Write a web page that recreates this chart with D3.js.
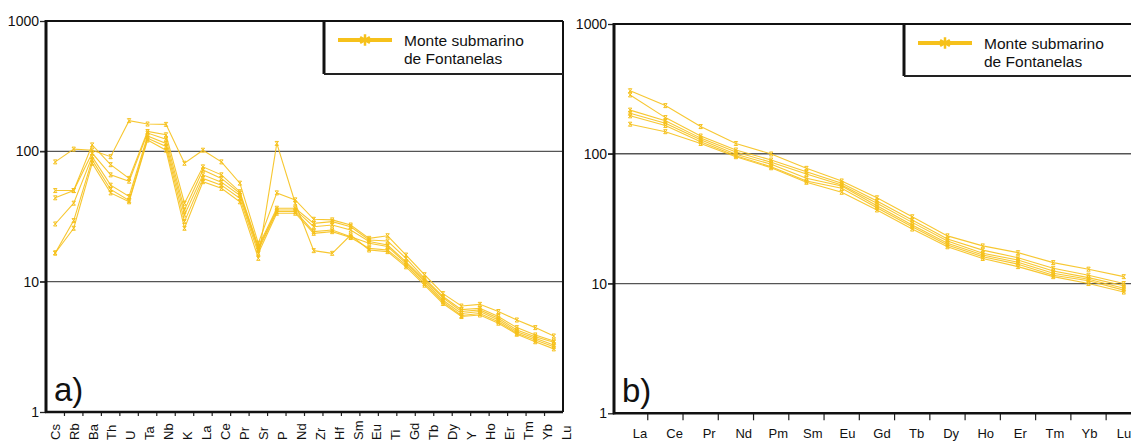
<!DOCTYPE html>
<html>
<head>
<meta charset="utf-8">
<script src="https://cdn.jsdelivr.net/npm/d3@7"></script>
<style>
  body { margin: 0; background: #fff; }
  svg { display: block; font-family: "Liberation Sans", Arial, sans-serif; }
</style>
</head>
<body>
<div id="chart"></div>
<script>
// spider diagram (a) elements and samples
var elemA = ["Cs","Rb","Ba","Th","U","Ta","Nb","K","La","Ce","Pr","Sr","P","Nd","Zr","Hf","Sm","Eu","Ti","Gd","Tb","Dy","Y","Ho","Er","Tm","Yb","Lu"];
var a1 = [83,104,102,91,172,162,161,81,102,83,57,19.7,48,42.4,30.1,29.8,27.2,21.5,22.5,16,11.3,8.1,6.5,6.7,5.9,5.08,4.44,3.83];
var a2 = [50,50,112,79,62,142,134,40,76,66,49,18.6,36.6,36.6,28,28.9,26.4,20.9,20.5,15.1,10.6,7.7,6.1,6.25,5.4,4.44,3.9,3.51];
var a3 = [44,50,97,66,59,138,124,35.5,72,62,47.7,18,35.5,35.5,26.4,27.2,24.9,20.3,19.1,14.2,10.3,7.5,5.9,6.07,5.24,4.26,3.78,3.43];
var a4 = [27.7,40,91,55,45,131,115,32.5,66,58,46,17.5,34.5,34.5,24.2,24.9,22.1,19.7,18.6,13.8,10,7.2,5.7,5.9,5.08,4.13,3.68,3.27];
var a5 = [16.6,29.4,86,51,42,126,109,28.9,62,55,43.6,16.5,33.5,33.5,23.5,24.2,21.8,18,17.5,13.4,9.7,7.0,5.5,5.7,4.93,4.02,3.57,3.17];
var a6 = [16.6,25.7,81,48,41,122,102,25.7,58.5,52,41,15.1,115,40,17.3,16.5,22.8,17.5,17,13,9.4,6.8,5.4,5.55,4.8,3.95,3.46,3.05];

// REE diagram (b)
var elemB = ["La","Ce","Pr","Nd","Pm","Sm","Eu","Gd","Tb","Dy","Ho","Er","Tm","Yb","Lu"];
var b1 = [306,235,162,120,99.6,77.2,61.7,45.8,32.7,23.3,19.5,17.3,14.5,12.9,11.3];
var b2 = [284,190,137,107,89.5,72.7,59.2,43.2,30.9,22.0,18.1,15.8,13.1,11.6,10.0];
var b3 = [217,180,132,103,86,69.8,57.4,41.5,29.6,21.3,17.1,15.2,12.5,11.1,9.6];
var b4 = [205,172,128,99,83,64.7,56.4,39.8,28.3,20.4,16.6,14.6,12.0,10.8,9.2];
var b5 = [196,165,124,96.6,79.5,61.7,54.2,38.4,27.4,19.8,16.1,14.1,11.6,10.5,8.9];
var b6 = [169,148,120,94.9,78,60.3,50.5,36.9,26.3,19.2,15.6,13.5,11.3,10.0,8.6];

var yTicks = [1, 10, 100, 1000];
var gridVals = [10, 100];
var legendText = ["Monte submarino", "de Fontanelas"];
var gold = "#f6c11b";

var svg = d3.select("#chart").append("svg")
    .attr("width", 1131)
    .attr("height", 441);

function drawPanel(p) {
    var g = svg.append("g");

    var x = d3.scaleBand().domain(p.elems).range(p.xRange);
    var xl = d3.scalePoint().domain(p.elems).range(p.labelRange);
    var y = d3.scaleLog().domain([1, 1000]).range([p.bottom, p.top]);

    // grid
    g.selectAll(".grid")
        .data(gridVals)
        .enter()
        .append("line")
        .attr("x1", p.left - 6)
        .attr("x2", p.right)
        .attr("y1", function (d) { return y(d) })
        .attr("y2", function (d) { return y(d) })
        .attr("stroke", "#555")
        .attr("stroke-width", 1.3);

    // y axis
    var ax = g.append("g")
        .attr("transform", "translate(" + p.left + ",0)")
        .call(d3.axisLeft(y).tickValues(yTicks).tickFormat(d3.format("d")).tickSize(6).tickSizeOuter(0));
    ax.select(".domain").remove();
    ax.selectAll("line").attr("stroke", "#222").attr("stroke-width", 1.3);
    ax.selectAll("text").attr("font-size", 14).attr("fill", "#111").attr("x", -7)
        .attr("font-family", "Liberation Sans, Arial, sans-serif");

    // x ticks at band edges
    g.selectAll(".xt")
        .data(p.elems.slice(1))
        .enter()
        .append("line")
        .attr("x1", function (d) { return x(d) })
        .attr("x2", function (d) { return x(d) })
        .attr("y1", p.bottom)
        .attr("y2", p.bottom + p.tickLen)
        .attr("stroke", "#222")
        .attr("stroke-width", 1.2);

    // x labels
    if (p.rotate) {
        g.selectAll(".xl")
            .data(p.elems)
            .enter()
            .append("text")
            .attr("transform", function (d) { return "translate(" + xl(d) + ",440) rotate(-90)" })
            .attr("dy", "0.36em")
            .attr("font-size", 13)
            .attr("fill", "#111")
            .text(function (d) { return d });
    } else {
        g.selectAll(".xl")
            .data(p.elems)
            .enter()
            .append("text")
            .attr("x", function (d) { return xl(d) })
            .attr("y", 437.5)
            .attr("text-anchor", "middle")
            .attr("font-size", 13)
            .attr("fill", "#111")
            .text(function (d) { return d });
    }

    // frame
    g.append("line").attr("x1", p.left).attr("x2", p.right).attr("y1", p.top).attr("y2", p.top)
        .attr("stroke", "#111").attr("stroke-width", 2.2);
    g.append("line").attr("x1", p.right).attr("x2", p.right).attr("y1", p.top).attr("y2", p.bottom)
        .attr("stroke", "#111").attr("stroke-width", 2);
    g.append("line").attr("x1", p.left - 1).attr("x2", p.right).attr("y1", p.bottom).attr("y2", p.bottom)
        .attr("stroke", "#111").attr("stroke-width", 2.5);
    g.append("line").attr("x1", p.left).attr("x2", p.left).attr("y1", p.top - 1).attr("y2", p.bottom + 1)
        .attr("stroke", "#111").attr("stroke-width", 3);

    // data
    var line = d3.line()
        .x(function (d, i) { return x(p.elems[i]) + x.bandwidth() / 2 })
        .y(function (d) { return y(d) });

    var marker = "M-1.7,-2L1.7,-2L-1.7,2L1.7,2Z";

    p.series.forEach(function (s) {
        g.append("path")
            .attr("d", line(s))
            .attr("fill", "none")
            .attr("stroke", gold)
            .attr("stroke-width", 1.1)
            .attr("opacity", 0.9);
        g.selectAll(null)
            .data(s)
            .enter()
            .append("path")
            .attr("d", marker)
            .attr("transform", function (d, i) { return "translate(" + (x(p.elems[i]) + x.bandwidth() / 2) + "," + y(d) + ")" })
            .attr("fill", "none")
            .attr("stroke", gold)
            .attr("stroke-width", 1);
    });

    // legend
    var lg = g.append("g");
    lg.append("line").attr("x1", p.legX).attr("x2", p.legX).attr("y1", p.top).attr("y2", p.legBottom)
        .attr("stroke", "#111").attr("stroke-width", 3);
    lg.append("line").attr("x1", p.legX).attr("x2", p.right).attr("y1", p.legBottom).attr("y2", p.legBottom)
        .attr("stroke", "#222").attr("stroke-width", 2);
    lg.append("line").attr("x1", p.legX + 14).attr("x2", p.legX + 68).attr("y1", p.top + 19).attr("y2", p.top + 19)
        .attr("stroke", gold).attr("stroke-width", 4);
    lg.append("path")
        .attr("d", d3.symbol().type(d3.symbolAsterisk).size(90)())
        .attr("transform", "translate(" + (p.legX + 41) + "," + (p.top + 19) + ")")
        .attr("stroke", gold).attr("stroke-width", 2.5).attr("fill", "none");
    lg.selectAll("text")
        .data(legendText)
        .enter()
        .append("text")
        .attr("x", p.legX + 80)
        .attr("y", function (d, i) { return p.top + 25 + i * 17.5 })
        .attr("font-size", 15.5)
        .attr("fill", "#111")
        .text(function (d) { return d });

    // panel letter
    g.append("text")
        .attr("x", p.left + 8)
        .attr("y", p.bottom - 11)
        .attr("font-size", 33)
        .attr("fill", "#111")
        .text(p.letter);
}

drawPanel({
    elems: elemA, series: [a1, a2, a3, a4, a5, a6],
    left: 46, right: 563, top: 21, bottom: 412,
    xRange: [46, 563], labelRange: [55, 566],
    tickLen: 4, rotate: true,
    legX: 324, legBottom: 74, letter: "a)"
});

drawPanel({
    elems: elemB, series: [b1, b2, b3, b4, b5, b6],
    left: 614, right: 1141, top: 24, bottom: 413.3,
    xRange: [612.5, 1141.4], labelRange: [640, 1124],
    tickLen: 7, rotate: false,
    legX: 904, legBottom: 76, letter: "b)"
});
</script>
</body>
</html>
